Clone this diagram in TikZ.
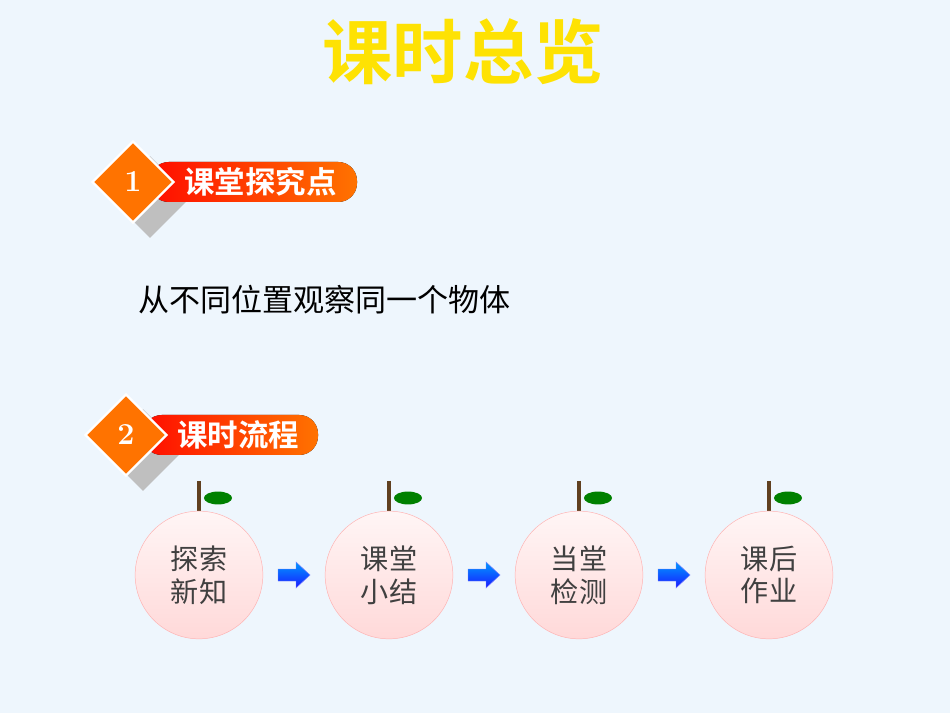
\documentclass[tikz,border=0pt]{standalone}
\usepackage{fontspec}
\newfontfamily\cjk{Noto Sans CJK SC}
\newfontfamily\cjkb{Noto Sans CJK SC Bold}
\usetikzlibrary{shapes.geometric,calc}
\definecolor{bg}{HTML}{EEF6FD}
\begin{document}
\begin{tikzpicture}[x=0.03cm,y=-0.03cm,
  dia/.style={diamond,draw=white,line width=2pt,fill=orange!90!red,minimum size=70pt,inner sep=0pt,font=\bfseries\fontsize{26}{26}\selectfont\color{white}},
  diash/.style={diamond,fill=gray!50,minimum size=70pt,inner sep=0pt},
  bar/.style={rounded corners=16,left color=red!90!orange,right color=orange!90!red,inner sep=0pt},
  htext/.style={font=\cjkb\fontsize{26}{26}\selectfont,text=white,anchor=west,inner sep=0pt},
  apple/.style={circle,draw=red!30,minimum size=109pt,inner sep=0pt,top color=white!85!pink,bottom color=pink!60,align=center,font=\cjk\fontsize{24}{28}\selectfont,text=black!75},
  stem/.style={line width=3pt,draw=brown!50!black},
  leaf/.style={ellipse,fill=green!50!black,minimum width=24pt,minimum height=11pt,inner sep=0pt},
  barrow/.style={top color=cyan!60!blue,bottom color=blue!90,draw=blue!50}]
\fill[bg] (0,0) rectangle (950,713);
\node (title) [font=\cjkb\fontsize{60}{60}\selectfont,text=yellow!85!orange] at (463,52) {课时总览};
% header 1
\node[diash] at (150,197) {};
\fill[bar] (150,162) rectangle (357,202);
\node (h1t) [htext] at (184,182) {课堂探究点};
\node (d1) [dia] at (133,182) {1};
% header 2
\node[diash] at (143,450) {};
\fill[bar] (143,415) rectangle (318,455);
\node (h2t) [htext] at (177,435) {课时流程};
\node (d2) [dia] at (126,435) {2};
\node (body) [font=\cjk\fontsize{26.5}{26.5}\selectfont,anchor=west,inner sep=0pt] at (138,300) {从不同位置观察同一个物体};
\foreach \i/\x/\t in {1/199/探索\\新知,2/389/课堂\\小结,3/579/当堂\\检测,4/769/课后\\作业}{
  \draw[stem] (\x,481) -- (\x,511);
  \node[leaf] at (\x+19,498) {};
  \node (a\i) [apple] at (\x,575) {\t};
}
\foreach \i/\j in {1/2,2/3,3/4}{
  \coordinate (m\i) at ($(a\i)!0.5!(a\j)$);
  \draw[barrow] ($(m\i)+(-16,-6)$) -- ++(18,0) -- ++(0,-7) -- ++(14,13) -- ++(-14,13) -- ++(0,-7) -- ++(-18,0) -- cycle;
}
\end{tikzpicture}
\end{document}
